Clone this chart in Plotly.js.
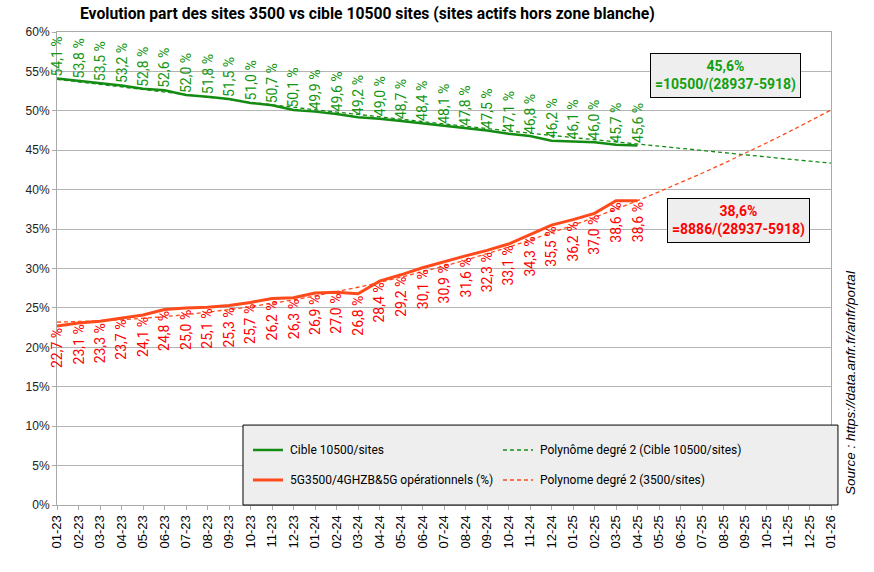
<!DOCTYPE html>
<html>
<head>
<meta charset="utf-8">
<script src="https://cdn.plot.ly/plotly-3.0.1.min.js"></script>
<style>body{margin:0;background:#fff}#plot{width:874px;height:572px}</style>
</head>
<body>
<div id="plot"></div>
<script>
// mois 01-23 -> 01-26
var months = ['01-23','02-23','03-23','04-23','05-23','06-23','07-23','08-23','09-23','10-23','11-23','12-23',
  '01-24','02-24','03-24','04-24','05-24','06-24','07-24','08-24','09-24','10-24','11-24','12-24',
  '01-25','02-25','03-25','04-25','05-25','06-25','07-25','08-25','09-25','10-25','11-25','12-25','01-26'];

// part cible 10500 sites (%)
var cible = [54.1,53.8,53.5,53.2,52.8,52.6,52.0,51.8,51.5,51.0,50.7,50.1,
  49.9,49.6,49.2,49.0,48.7,48.4,48.1,47.8,47.5,47.1,46.8,46.2,
  46.1,46.0,45.7,45.6];

// 5G3500 operationnels (%)
var ops = [22.7,23.1,23.3,23.7,24.1,24.8,25.0,25.1,25.3,25.7,26.2,26.3,
  26.9,27.0,26.8,28.4,29.2,30.1,30.9,31.6,32.3,33.1,34.3,35.5,
  36.2,37.0,38.6,38.6];

// courbes de tendance
var trendCible = [54.0,53.67,53.33,53.0,52.68,52.35,52.03,51.71,51.39,51.07,50.76,50.45,
  50.14,49.83,49.53,49.22,48.92,48.62,48.33,48.03,47.74,47.45,47.16,46.88,
  46.59,46.31,46.03,45.76,45.48,45.21,44.94,44.67,44.41,44.14,43.88,43.62,43.37];
var trendOps = [23.2,23.26,23.36,23.5,23.68,23.9,24.15,24.45,24.78,25.16,25.57,26.02,
  26.52,27.05,27.62,28.22,28.88,29.56,30.29,31.06,31.87,32.71,33.6,34.52,
  35.48,36.48,37.52,38.6,39.73,40.89,42.08,43.32,44.6,45.92,47.27,48.67,50.1];

var GREEN = '#148c14', RED = '#ff4a1c';
var LBL = 'Roboto, Arial, sans-serif';
var ARIAL = 'Liberation Sans, Arial, sans-serif';

function fmt(v){ return v.toFixed(1).replace('.', ',') + ' %'; }

var traces = [
  {x: months.slice(0, cible.length), y: cible, name: 'Cible 10500/sites', type: 'scatter', mode: 'lines',
   line: {color: GREEN, width: 2.5}},
  {x: months, y: trendCible, name: 'Polynôme degré 2 (Cible 10500/sites)', type: 'scatter', mode: 'lines',
   line: {color: GREEN, width: 1.3, dash: '4px,3px'}},
  {x: months.slice(0, ops.length), y: ops, name: '5G3500/4GHZB&5G opérationnels (%)', type: 'scatter', mode: 'lines',
   line: {color: RED, width: 3}},
  {x: months, y: trendOps, name: 'Polynome degré 2 (3500/sites)', type: 'scatter', mode: 'lines',
   line: {color: RED, width: 1.3, dash: '4px,3px'}}
];

var annots = [];
cible.forEach(function(v, i){
  annots.push({x: months[i], y: v, xref: 'x', yref: 'y', text: fmt(v), showarrow: false,
    textangle: -90, yanchor: 'bottom', xanchor: 'center', yshift: 0,
    font: {family: LBL, size: 14, color: '#129612'}});
});
ops.forEach(function(v, i){
  annots.push({x: months[i], y: v, xref: 'x', yref: 'y', text: fmt(v), showarrow: false,
    textangle: -90, yanchor: 'top', xanchor: 'center', yshift: 0,
    font: {family: LBL, size: 14, color: '#ff0000'}});
});
annots.push({xref: 'paper', yref: 'paper', x: 0.864, y: 0.907, xanchor: 'center', yanchor: 'middle', showarrow: false,
  text: '<b>45,6%<br>=10500/(28937-5918)</b>', align: 'center',
  font: {family: LBL, size: 14, color: '#12a012'}, bgcolor: '#eeeeee', bordercolor: '#000', borderwidth: 1, borderpad: 4});
annots.push({xref: 'paper', yref: 'paper', x: 0.88, y: 0.6025, xanchor: 'center', yanchor: 'middle', showarrow: false,
  text: '<b>38,6%<br>=8886/(28937-5918)</b>', align: 'center',
  font: {family: LBL, size: 14, color: '#ff0000'}, bgcolor: '#eeeeee', bordercolor: '#000', borderwidth: 1, borderpad: 4});
annots.push({xref: 'paper', yref: 'paper', x: 1.0245, y: 0.26, xanchor: 'center', yanchor: 'middle', showarrow: false, textangle: -90,
  text: '<i>Source : https://data.anfr.fr/anfr/portal</i>',
  font: {family: ARIAL, size: 13.5, color: '#000'}});

// legende dessinee a la main (deux colonnes, comme dans Excel)
var shapes = [{type: 'rect', xref: 'paper', yref: 'paper', x0: 0.2403, x1: 1.009, y0: 0, y1: 0.169,
  fillcolor: '#eeeeee', line: {color: '#000', width: 1}, layer: 'above'}];
var legCols = [0.2532, 0.5762], legRows = [0.1163, 0.0529];
[0, 1, 2, 3].forEach(function(k){
  var col = k % 2, row = Math.floor(k / 2), tr = traces[k];
  shapes.push({type: 'line', xref: 'paper', yref: 'paper', x0: legCols[col], x1: legCols[col] + 0.0388,
    y0: legRows[row], y1: legRows[row], layer: 'above',
    line: {color: tr.line.color, width: tr.line.dash ? 1.3 : tr.line.width, dash: tr.line.dash || 'solid'}});
  annots.push({xref: 'paper', yref: 'paper', x: legCols[col] + 0.0452, y: legRows[row], xanchor: 'left', yanchor: 'middle',
    showarrow: false, text: tr.name, font: {family: LBL, size: 12, color: '#000'}});
});

var layout = {
  width: 874, height: 572,
  margin: {l: 57, r: 43, t: 32, b: 67},
  paper_bgcolor: '#fff', plot_bgcolor: '#fff',
  title: {text: '<b>Evolution part des sites 3500 vs cible 10500 sites (sites actifs hors zone blanche)</b>',
    x: 0.0915, xanchor: 'left', xref: 'container', y: 0.976, yanchor: 'middle', yref: 'container',
    font: {family: LBL, size: 15.7, color: '#000'}},
  xaxis: {type: 'category', range: [0, 36], tickangle: -90, ticks: 'outside', ticklen: 4, tickcolor: '#aaa',
    showline: true, linecolor: '#aaa', mirror: true, showgrid: false,
    tickfont: {family: ARIAL, size: 13, color: '#000'}},
  yaxis: {range: [0, 60], dtick: 5, ticksuffix: '%', ticks: 'outside', ticklen: 4, tickcolor: '#aaa',
    showline: true, linecolor: '#aaa', mirror: true, gridcolor: '#b4b4b4', zeroline: false,
    tickfont: {family: ARIAL, size: 12, color: '#222'}},
  showlegend: false,
  shapes: shapes,
  annotations: annots
};

Plotly.newPlot('plot', traces, layout, {displayModeBar: false});
</script>
</body>
</html>
